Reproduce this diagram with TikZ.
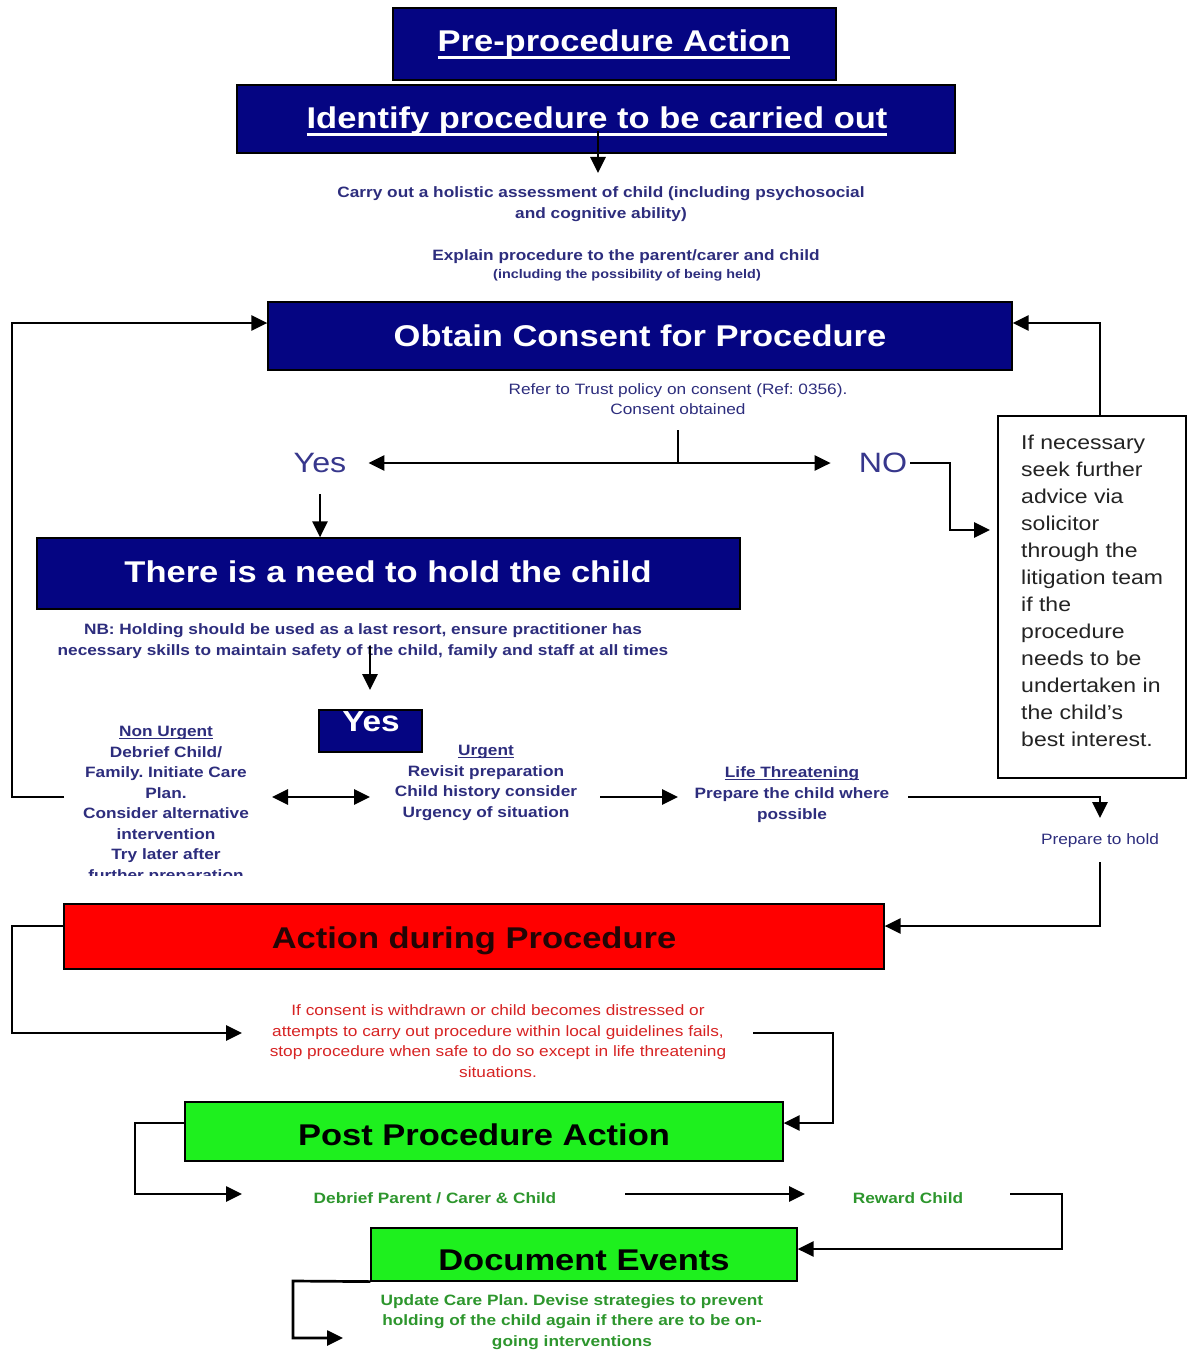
\documentclass[tikz,border=0pt]{standalone}
\usepackage{fontspec}
\setmainfont{Liberation Sans}[FakeStretch=1.15]
\usetikzlibrary{arrows.meta}
\definecolor{navybox}{RGB}{5,5,130}
\definecolor{tblue}{RGB}{45,45,125}
\definecolor{yblue}{RGB}{55,55,140}
\definecolor{rtext}{RGB}{215,35,35}
\definecolor{gbox}{RGB}{30,240,30}
\definecolor{gtext}{RGB}{45,150,45}
\definecolor{atext}{RGB}{35,5,5}
\definecolor{rboxtext}{RGB}{35,35,35}
\newcommand{\myul}[3]{\setbox0\hbox{#3}\leavevmode\rlap{\rule[-#1]{\wd0}{#2}}\box0}
\frenchspacing
\begin{document}
\begin{tikzpicture}[x=1pt,y=-1pt,
 boxbase/.style={draw=black, line width=1.2pt, inner sep=0pt},
 navyb/.style={boxbase, fill=navybox},
 redb/.style={boxbase, fill=red},
 greenb/.style={boxbase, fill=gbox},
 head/.style={inner sep=0pt, anchor=base, font=\fontsize{30}{36}\selectfont\bfseries},
 body/.style={inner sep=0pt, align=center, font=\fontsize{15}{20.5}\selectfont\bfseries, text=tblue},
 conn/.style={line width=2.7pt, draw=black},
 arr/.style={conn, -{Triangle[length=16pt,width=15pt]}},
 darr/.style={conn, {Triangle[length=16pt,width=15pt]}-{Triangle[length=16pt,width=15pt]}},
]
\fill[white] (0,0) rectangle (1188,1351);
\useasboundingbox (0,0) rectangle (1188,1351);

% boxes
\node[navyb, minimum width=443pt, minimum height=72pt] (pre) at (614.5,44) {};
\node[head, text=white] (pretxt) at (614,52) {\myul{7pt}{2.5pt}{Pre-procedure Action}};
\node[navyb, minimum width=718pt, minimum height=68pt] (id) at (596,119) {};
\node[head, text=white] (idtxt) at (597,129) {\myul{7pt}{2.5pt}{Identify procedure to be carried out}};
\node[navyb, minimum width=744pt, minimum height=68pt] (cons) at (640,336) {};
\node[head, text=white] (constxt) at (640,346) {Obtain Consent for Procedure};
\node[navyb, minimum width=703pt, minimum height=71pt] (hold) at (388.5,573.5) {};
\node[head, text=white] (holdtxt) at (388,582) {There is a need to hold the child};
\node[navyb, minimum width=103pt, minimum height=42pt] (yesb) at (370.5,731) {};
\node[head, text=white, font=\fontsize{29}{32}\selectfont\bfseries] (yesbtxt) at (371,731) {Yes};
\node[redb, minimum width=820pt, minimum height=65pt] (act) at (474,936.5) {};
\node[head, text=atext] (acttxt) at (474,948) {Action during Procedure};
\node[greenb, minimum width=598pt, minimum height=59pt] (post) at (484,1131.5) {};
\node[head, text=black] (posttxt) at (484,1145) {Post Procedure Action};
\node[greenb, minimum width=426pt, minimum height=53pt] (doc) at (584,1254.5) {};
\node[head, text=black] (doctxt) at (584,1270) {Document Events};
\node[draw=black, line width=1.2pt, minimum width=188pt, minimum height=362pt] (rbox) at (1092,597) {};
\node[anchor=west, align=left, inner sep=0pt, font=\fontsize{20}{27}\selectfont, text=rboxtext] (rtxt) at (1021,591)
 {If necessary\\seek further\\advice via\\solicitor\\through the\\litigation team\\if the\\procedure\\needs to be\\undertaken in\\the child's\\best interest.};

% texts
\node[body, font=\fontsize{15}{21}\selectfont\bfseries] (assess) at (601,204) {Carry out a holistic assessment of child (including psychosocial\\and cognitive ability)};
\node[body] (explain) at (626,257) {Explain procedure to the parent/carer and child};
\node[body, font=\fontsize{12.5}{15}\selectfont\bfseries] (incl) at (627,275) {(including the possibility of being held)};
\node[body, font=\fontsize{15}{20}\selectfont] (refer) at (678,399) {Refer to Trust policy on consent (Ref: 0356).\\Consent obtained};
\node[inner sep=0pt, font=\fontsize{28}{32}\selectfont, text=yblue] (yes) at (320,463) {Yes};
\node[inner sep=0pt, font=\fontsize{28}{32}\selectfont, text=yblue] (no) at (883,463) {NO};
\node[body, font=\fontsize{15}{21}\selectfont\bfseries] (nb) at (363,641) {NB: Holding should be used as a last resort, ensure practitioner has\\necessary skills to maintain safety of the child, family and staff at all times};
\begin{scope}
\clip (0,0) rectangle (1188,875);
\node[body, font=\fontsize{15}{20.5}\selectfont\bfseries] (nonurg) at (166,805) {\myul{2.5pt}{1pt}{Non Urgent}\\Debrief Child/\\Family. Initiate Care\\Plan.\\Consider alternative\\intervention\\Try later after\\further preparation};
\end{scope}
\node[body, font=\fontsize{15}{20.7}\selectfont\bfseries] (urg) at (486,783) {\myul{2.5pt}{1pt}{Urgent}\\Revisit preparation\\Child history consider\\Urgency of situation};
\node[body, font=\fontsize{15}{21}\selectfont\bfseries] (life) at (792,795) {\myul{2.5pt}{1pt}{Life Threatening}\\Prepare the child where\\possible};
\node[body, font=\fontsize{15}{18}\selectfont] (prep) at (1100,841) {Prepare to hold};
\node[body, font=\fontsize{15}{20.7}\selectfont, text=rtext] (red) at (498,1041) {If consent is withdrawn or child becomes distressed or\\attempts to carry out procedure within local guidelines fails,\\stop procedure when safe to do so except in life threatening\\situations.};
\node[body, text=gtext] (debrief) at (435,1198) {Debrief Parent / Carer \& Child};
\node[body, text=gtext] (reward) at (908,1198) {Reward Child};
\node[body, text=gtext, font=\fontsize{15}{20.5}\selectfont\bfseries] (update) at (572,1322) {Update Care Plan. Devise strategies to prevent\\holding of the child again if there are to be on-\\going interventions};

% coordinates
\coordinate (idout) at (598,131);
\coordinate (asin) at (598,173);
\coordinate (c1) at (678,430);
\coordinate (j) at (678,463);
\coordinate (rin) at (990,530);
\coordinate (nuout) at (64,797);
\coordinate (yesout) at (320,494);
\coordinate (nbout) at (370,646);
\coordinate (yesbin) at (370,690);
\coordinate (nuR) at (272,797);
\coordinate (urL) at (370,797);
\coordinate (urR) at (600,797);
\coordinate (liL) at (678,797);
\coordinate (liR) at (908,797);
\coordinate (prepin) at (1100,818);
\coordinate (prepout) at (1100,862);
\coordinate (redin) at (242,1033);
\coordinate (redout) at (753,1033);
\coordinate (debin) at (242,1194);
\coordinate (debout) at (625,1194);
\coordinate (rewin) at (805,1194);
\coordinate (rewout) at (1010,1194);
\coordinate (updin) at (343,1338);

% connectors
\draw[arr] (idout) -- (asin);
\draw[conn] (c1) -- (j);
\draw[arr] (j) -- ([xshift=22pt]yes.east);
\draw[arr] (j) -- ([xshift=-28pt]no.west);
\draw[arr] ([xshift=3pt]no.east) -- (950,463) |- (rin);
\draw[arr] (rbox.north -| 1100,0) |- (cons.east |- 0,323);
\draw[arr] (nuout) -- (12,797) |- (cons.west |- 0,323);
\draw[arr] (yesout) -- (hold.north -| yesout);
\draw[arr] (nbout) -- (yesbin);
\draw[darr] (nuR) -- (urL);
\draw[arr] (urR) -- (liL);
\draw[arr] (liR) -| (prepin);
\draw[arr] (prepout) |- (act.east |- 0,926);
\draw[arr] (act.west |- 0,926) -- (12,926) |- (redin);
\draw[arr] (redout) -- (833,1033) |- (post.east |- 0,1123);
\draw[arr] (post.west |- 0,1123) -- (135,1123) |- (debin);
\draw[arr] (debout) -- (rewin);
\draw[arr] (rewout) -- (1062,1194) |- (doc.east |- 0,1249);
\draw[arr] (doc.south west) -- (293,1281) |- (updin);
\end{tikzpicture}
\end{document}
